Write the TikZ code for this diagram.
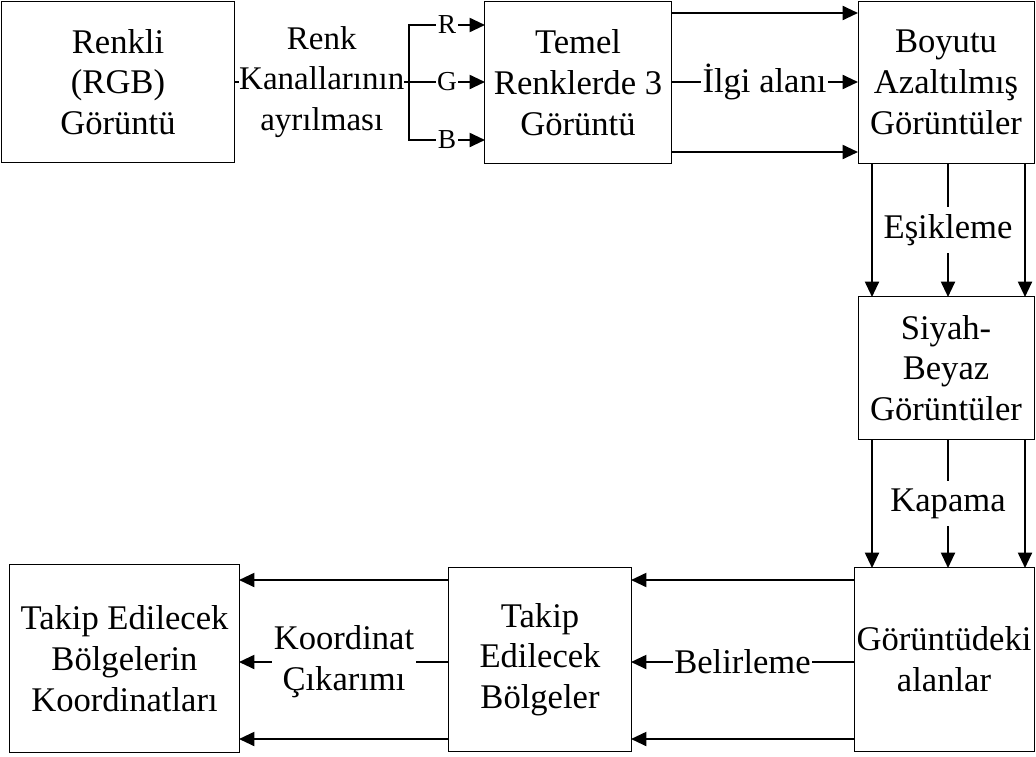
\documentclass[tikz,border=0pt]{standalone}
\usepackage{fontspec}
\setmainfont{Liberation Serif}
\usetikzlibrary{arrows.meta}

\begin{document}
\begin{tikzpicture}[x=0.025cm,y=-0.025cm,
    box/.style={draw,line width=0.7pt,align=center,inner sep=0pt,font=\fontsize{24.6}{29}\selectfont},
    lab/.style={fill=white,align=center,inner xsep=1pt,inner ysep=0pt,font=\fontsize{24.6}{29}\selectfont},
    chan/.style={fill=white,inner xsep=1pt,inner ysep=0pt,font=\fontsize{19.5}{21}\selectfont},
    line/.style={line width=1.5pt},
    arr/.style={line width=1.5pt,-{Triangle[length=11pt,width=10pt]}}]
      \useasboundingbox (0,0) rectangle (1036,756);

      \node[box,minimum width=5.8cm,minimum height=4cm] (n1) at (118,82) {Renkli\\(RGB)\\Görüntü};
      \node[box,minimum width=4.65cm,minimum height=4.025cm] (n2) at (578,82.5) {Temel\\Renklerde 3\\Görüntü};
      \node[box,minimum width=4.4cm,minimum height=4.025cm] (n3) at (946,82.5) {Boyutu\\Azaltılmış\\Görüntüler};
      \node[box,minimum width=4.4cm,minimum height=3.55cm] (n4) at (946,368) {Siyah-\\Beyaz\\Görüntüler};
      \node[box,minimum width=4.5cm,minimum height=4.575cm] (n5) at (944,659.5) {Görüntüdeki\\alanlar};
      \node[box,minimum width=4.55cm,minimum height=4.575cm] (n6) at (540,659.5) {Takip\\Edilecek\\Bölgeler};
      \node[box,minimum width=5.725cm,minimum height=4.675cm] (n7) at (124.5,658.5) {Takip Edilecek\\Bölgelerin\\Koordinatları};

      \coordinate (k0) at (409,82);
      \coordinate (k1) at (409,25);
      \coordinate (k3) at (409,140);
      \coordinate (r1) at (485,25);
      \coordinate (g1) at (485,82);
      \coordinate (b1) at (485,140);

      \coordinate (t1) at (671,13);
      \coordinate (t2) at (858,13);
      \coordinate (t3) at (671,82);
      \coordinate (t4) at (858,82);
      \coordinate (t5) at (671,152);
      \coordinate (t6) at (858,152);

      \coordinate (s1) at (872,163);
      \coordinate (s2) at (872,297);
      \coordinate (s3) at (948,163);
      \coordinate (s4) at (948,297);
      \coordinate (s5) at (1025,163);
      \coordinate (s6) at (1025,297);

      \coordinate (u1) at (872,439);
      \coordinate (u2) at (872,568);
      \coordinate (u3) at (948,439);
      \coordinate (u4) at (948,568);
      \coordinate (u5) at (1025,439);
      \coordinate (u6) at (1025,568);

      \coordinate (w1) at (854,580);
      \coordinate (w2) at (631,580);
      \coordinate (w3) at (854,662);
      \coordinate (w4) at (631,662);
      \coordinate (w5) at (854,739);
      \coordinate (w6) at (631,739);

      \coordinate (z1) at (449,580);
      \coordinate (z2) at (239,580);
      \coordinate (z3) at (449,662);
      \coordinate (z4) at (239,662);
      \coordinate (z5) at (449,739);
      \coordinate (z6) at (239,739);

      \draw[line] (n1.east) -- node[lab,inner xsep=0pt,font=\fontsize{23.5}{29}\selectfont] {Renk\\Kanallarının\\ayrılması} (k0);
      \draw[line,line cap=rect] (k1) -- (k3);
      \draw[arr] (k1) -- node[chan] {R} (r1);
      \draw[arr] (k0) -- node[chan] {G} (g1);
      \draw[arr] (k3) -- node[chan] {B} (b1);

      \draw[arr] (t1) -- (t2);
      \draw[arr] (t3) -- node[lab] {İlgi alanı} (t4);
      \draw[arr] (t5) -- (t6);

      \draw[arr] (s1) -- (s2);
      \draw[arr] (s3) -- node[lab,inner ysep=5pt] {Eşikleme} (s4);
      \draw[arr] (s5) -- (s6);

      \draw[arr] (u1) -- (u2);
      \draw[arr] (u3) -- node[lab,inner ysep=5pt] {Kapama} (u4);
      \draw[arr] (u5) -- (u6);

      \draw[arr] (w1) -- (w2);
      \draw[arr] (w3) -- node[lab] {Belirleme} (w4);
      \draw[arr] (w5) -- (w6);

      \draw[arr] (z1) -- (z2);
      \draw[arr] (z3) -- node[lab] {Koordinat\\Çıkarımı} (z4);
      \draw[arr] (z5) -- (z6);
\end{tikzpicture}
\end{document}
